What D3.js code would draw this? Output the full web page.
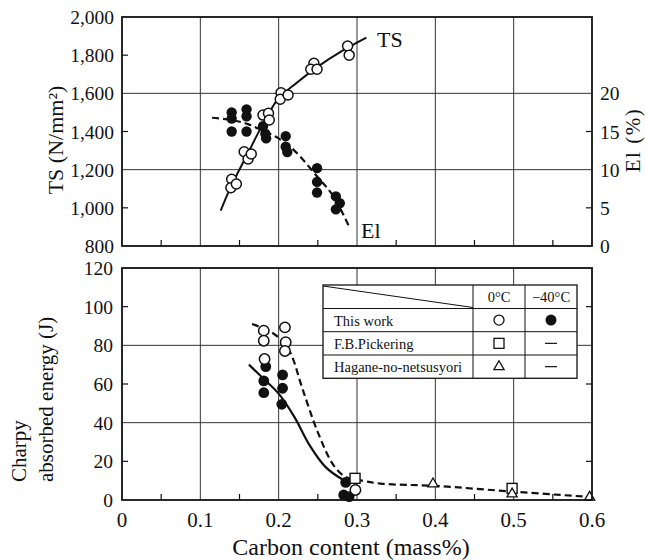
<!DOCTYPE html>
<html>
<head>
<meta charset="utf-8">
<script src="https://cdnjs.cloudflare.com/ajax/libs/d3/7.8.5/d3.min.js"></script>
<style>
  body { margin: 0; background: #fff; }
  svg text { font-family: "Liberation Serif", "DejaVu Serif", serif; fill: #111; }
</style>
</head>
<body>
<svg id="chart" width="646" height="560" font-family="Liberation Serif, serif"></svg>
<script>
// ---- data ----
const xTicks = [0, 0.1, 0.2, 0.3, 0.4, 0.5, 0.6]
const tsTicks = [800, 1000, 1200, 1400, 1600, 1800, 2000]
const elTicks = [0, 5, 10, 15, 20]
const charpyTicks = [0, 20, 40, 60, 80, 100, 120]

// tensile strength, open circles [C mass%, TS]
const tsPoints = [
  [0.140, 1150], [0.139, 1105], [0.146, 1125],
  [0.156, 1294], [0.161, 1256], [0.165, 1282],
  [0.180, 1486], [0.187, 1495], [0.188, 1460],
  [0.203, 1603], [0.202, 1569], [0.212, 1591],
  [0.245, 1757], [0.241, 1726], [0.249, 1726],
  [0.288, 1848], [0.290, 1800]
]
const tsCurve = [[0.126, 985], [0.14, 1120], [0.16, 1280], [0.18, 1440], [0.2, 1575],
  [0.22, 1645], [0.25, 1740], [0.28, 1820], [0.312, 1892]]

// elongation, filled circles [C mass%, El %]
const elPoints = [
  [0.140, 17.5], [0.140, 16.7], [0.140, 15.0],
  [0.159, 17.9], [0.159, 17.0], [0.159, 15.0],
  [0.180, 15.7], [0.183, 14.7], [0.184, 14.1],
  [0.209, 14.4], [0.209, 13.0], [0.211, 12.3],
  [0.249, 10.2], [0.249, 8.4], [0.249, 7.0],
  [0.273, 6.5], [0.278, 5.6], [0.273, 4.8]
]
const elCurve = [[0.115, 16.8], [0.14, 16.5], [0.16, 16.0], [0.18, 15.1], [0.2, 14.1],
  [0.22, 12.5], [0.25, 9.0], [0.27, 6.5], [0.291, 2.3]]

// Charpy absorbed energy
const open0C = [[0.181, 87.6], [0.181, 82.4], [0.182, 72.9],
  [0.208, 89.3], [0.209, 81.6], [0.208, 77.1], [0.298, 5.2]]
const filled40C = [[0.1835, 69], [0.181, 61.6], [0.181, 55.5],
  [0.205, 64.7], [0.205, 57.8], [0.204, 49.5],
  [0.2856, 9.1], [0.283, 2.6], [0.29, 1.7]]
const pickering = [[0.2975, 11.2], [0.498, 6.0]]
const hagane = [[0.397, 7.8], [0.498, 2.6], [0.597, 0.9]]
const curve0C = [[0.166, 91], [0.185, 88], [0.2, 84], [0.215, 76], [0.23, 58], [0.25, 35],
  [0.27, 18], [0.285, 12], [0.3, 10.5], [0.33, 8.5], [0.4, 7.3], [0.5, 4.3], [0.6, 1.5]]
const curve40C = [[0.162, 70], [0.18, 63], [0.2, 55], [0.22, 43], [0.24, 28],
  [0.26, 17], [0.28, 11], [0.29, 9]]

const legendRows = ['This work', 'F.B.Pickering', 'Hagane-no-netsusyori']
const legendCols = ['0°C', '−40°C']

// ---- layout ----
const svg = d3.select('#chart')
const left = 122, right = 592
const x = d3.scaleLinear().domain([0, 0.6]).range([left, right])
const yTS = d3.scaleLinear().domain([800, 2000]).range([246, 17])
const yEl = d3.scaleLinear().domain([0, 20]).range([yTS(800), yTS(1600)])
const yC = d3.scaleLinear().domain([0, 120]).range([500, 268])

const ink = '#111'
const tickFont = 19.5

function panel(y, y0, y1, gridVals) {
  let g = svg.append('g')
  // vertical grid
  g.selectAll('.vg').data([0.1, 0.2, 0.3, 0.4, 0.5]).join('line')
    .attr('x1', d => x(d)).attr('x2', d => x(d))
    .attr('y1', y0).attr('y2', y1)
    .attr('stroke', '#333').attr('stroke-width', 1)
  g.selectAll('.hg').data(gridVals).join('line')
    .attr('x1', left).attr('x2', right)
    .attr('y1', d => y(d)).attr('y2', d => y(d))
    .attr('stroke', '#333').attr('stroke-width', 1)
  // minor x ticks on the bottom edge
  g.selectAll('.mt').data([0.05, 0.15, 0.25, 0.35, 0.45, 0.55]).join('line')
    .attr('x1', d => x(d)).attr('x2', d => x(d))
    .attr('y1', y1).attr('y2', y1 - 6)
    .attr('stroke', ink).attr('stroke-width', 1.2)
  return g
}

function frame(y0, y1) {
  svg.append('rect')
    .attr('x', left).attr('y', y0)
    .attr('width', right - left).attr('height', y1 - y0)
    .attr('fill', 'none').attr('stroke', ink).attr('stroke-width', 1.8)
}

function openCircles(g, data, y, r) {
  g.selectAll(null).data(data).join('circle')
    .attr('cx', d => x(d[0])).attr('cy', d => y(d[1])).attr('r', r)
    .attr('fill', '#fff').attr('stroke', ink).attr('stroke-width', 1.5)
}
function filledCircles(g, data, y, r) {
  g.selectAll(null).data(data).join('circle')
    .attr('cx', d => x(d[0])).attr('cy', d => y(d[1])).attr('r', r)
    .attr('fill', ink)
}

// ---- top panel ----
let topG = panel(yTS, yTS(2000), yTS(800), [1200, 1600])

const lineTS = d3.line().x(d => x(d[0])).y(d => yTS(d[1])).curve(d3.curveCatmullRom)
const lineEl = d3.line().x(d => x(d[0])).y(d => yEl(d[1])).curve(d3.curveCatmullRom)

topG.append('path').attr('d', lineEl(elCurve))
  .attr('fill', 'none').attr('stroke', ink).attr('stroke-width', 2.2)
  .attr('stroke-dasharray', '7,4')
topG.append('path').attr('d', lineTS(tsCurve))
  .attr('fill', 'none').attr('stroke', ink).attr('stroke-width', 2)

filledCircles(topG, elPoints, yEl, 5.2)
openCircles(topG, tsPoints, yTS, 5)

// left ticks
topG.selectAll('.tl').data(tsTicks).join('text')
  .attr('x', 114).attr('y', d => yTS(d) + 7)
  .attr('text-anchor', 'end').attr('font-size', tickFont)
  .text(d => d3.format(',')(d))
topG.selectAll('.tt').data([1000, 1400, 1800]).join('line')
  .attr('x1', left).attr('x2', left + 6)
  .attr('y1', d => yTS(d)).attr('y2', d => yTS(d))
  .attr('stroke', ink).attr('stroke-width', 1.2)
// right ticks
topG.selectAll('.rl').data(elTicks).join('text')
  .attr('x', 600).attr('y', d => yEl(d) + 7)
  .attr('font-size', tickFont)
  .text(d => d)
topG.selectAll('.rt').data([5, 15]).join('line')
  .attr('x1', right - 6).attr('x2', right)
  .attr('y1', d => yEl(d)).attr('y2', d => yEl(d))
  .attr('stroke', ink).attr('stroke-width', 1.2)

topG.append('text').attr('x', 377).attr('y', 47).attr('font-size', 22).text('TS')
topG.append('text').attr('x', 361).attr('y', 238).attr('font-size', 22).text('El')

svg.append('text')
  .attr('transform', `translate(63,140) rotate(-90)`)
  .attr('text-anchor', 'middle').attr('font-size', 22)
  .text('TS (N/mm²)')
svg.append('text')
  .attr('transform', `translate(640,140) rotate(-90)`)
  .attr('text-anchor', 'middle').attr('font-size', 21)
  .attr('letter-spacing', 1.5)
  .text('El (%)')

frame(yTS(2000), yTS(800))

// ---- bottom panel ----
let botG = panel(yC, yC(120), yC(0), [40, 80])

const lineC = d3.line().x(d => x(d[0])).y(d => yC(d[1])).curve(d3.curveCatmullRom)
botG.append('path').attr('d', lineC(curve0C))
  .attr('fill', 'none').attr('stroke', ink).attr('stroke-width', 2.2)
  .attr('stroke-dasharray', '7,4')
botG.append('path').attr('d', lineC(curve40C))
  .attr('fill', 'none').attr('stroke', ink).attr('stroke-width', 2.2)

filledCircles(botG, filled40C, yC, 5.4)
openCircles(botG, open0C, yC, 5.2)

botG.selectAll('.sq').data(pickering).join('rect')
  .attr('x', d => x(d[0]) - 5).attr('y', d => yC(d[1]) - 5)
  .attr('width', 10).attr('height', 10)
  .attr('fill', '#fff').attr('stroke', ink).attr('stroke-width', 1.4)
const tri = d3.symbol().type(d3.symbolTriangle).size(45)
botG.selectAll('.tr').data(hagane).join('path')
  .attr('d', tri)
  .attr('transform', d => `translate(${x(d[0])},${yC(d[1]) - 1})`)
  .attr('fill', '#fff').attr('stroke', ink).attr('stroke-width', 1.3)

botG.selectAll('.cl').data(charpyTicks).join('text')
  .attr('x', 113).attr('y', d => yC(d) + 7)
  .attr('text-anchor', 'end').attr('font-size', tickFont)
  .text(d => d)
botG.selectAll('.ct').data([20, 60, 100]).join('line')
  .attr('x1', left).attr('x2', left + 6)
  .attr('y1', d => yC(d)).attr('y2', d => yC(d))
  .attr('stroke', ink).attr('stroke-width', 1.2)
botG.selectAll('.ctr').data([20, 60, 100]).join('line')
  .attr('x1', right - 6).attr('x2', right)
  .attr('y1', d => yC(d)).attr('y2', d => yC(d))
  .attr('stroke', ink).attr('stroke-width', 1.2)

botG.selectAll('.xl').data(xTicks).join('text')
  .attr('x', d => x(d)).attr('y', 527)
  .attr('text-anchor', 'middle').attr('font-size', 21)
  .text(d => d)

svg.append('text').attr('x', 351).attr('y', 555)
  .attr('text-anchor', 'middle').attr('font-size', 24)
  .text('Carbon content (mass%)')

let yl = svg.append('text')
  .attr('transform', 'rotate(-90)')
  .attr('font-size', 21)
yl.append('tspan').attr('x', -482).attr('y', 26).text('Charpy')
yl.append('tspan').attr('x', -482).attr('y', 53).text('absorbed energy (J)')

// ---- legend table ----
const lg = svg.append('g')
const lx0 = 323, lx1 = 473, lx2 = 525, lx3 = 577
const rowY = [285, 308.5, 331.7, 355, 378.3]
lg.append('rect').attr('x', lx0).attr('y', rowY[0])
  .attr('width', lx3 - lx0).attr('height', rowY[4] - rowY[0])
  .attr('fill', '#fff').attr('stroke', ink).attr('stroke-width', 1.3)
lg.selectAll('.hr').data(rowY.slice(1, 4)).join('line')
  .attr('x1', lx0).attr('x2', lx3).attr('y1', d => d).attr('y2', d => d)
  .attr('stroke', ink).attr('stroke-width', 1)
lg.selectAll('.vr').data([lx1, lx2]).join('line')
  .attr('x1', d => d).attr('x2', d => d).attr('y1', rowY[0]).attr('y2', rowY[4])
  .attr('stroke', ink).attr('stroke-width', 1)
lg.append('line').attr('x1', lx0).attr('y1', rowY[0] + 1).attr('x2', lx1).attr('y2', rowY[1] - 1)
  .attr('stroke', ink).attr('stroke-width', 1)

lg.selectAll('.ch').data(legendCols).join('text')
  .attr('x', (d, i) => i ? (lx2 + lx3) / 2 : (lx1 + lx2) / 2)
  .attr('y', rowY[0] + 17).attr('text-anchor', 'middle').attr('font-size', 14.5)
  .text(d => d)
lg.selectAll('.rn').data(legendRows).join('text')
  .attr('x', lx0 + 11).attr('y', (d, i) => rowY[i + 1] + 17)
  .attr('font-size', 14.5)
  .text(d => d)

const c1 = (lx1 + lx2) / 2, c2 = (lx2 + lx3) / 2
const midY = i => (rowY[i + 1] + rowY[i + 2]) / 2
lg.append('circle').attr('cx', c1).attr('cy', midY(0)).attr('r', 5)
  .attr('fill', '#fff').attr('stroke', ink).attr('stroke-width', 1.3)
lg.append('circle').attr('cx', c2).attr('cy', midY(0)).attr('r', 5.5).attr('fill', ink)
lg.append('rect').attr('x', c1 - 5).attr('y', midY(1) - 5).attr('width', 10).attr('height', 10)
  .attr('fill', '#fff').attr('stroke', ink).attr('stroke-width', 1.3)
lg.append('path').attr('d', tri).attr('transform', `translate(${c1},${midY(2)})`)
  .attr('fill', '#fff').attr('stroke', ink).attr('stroke-width', 1.3)
lg.selectAll('.dash').data([1, 2]).join('line')
  .attr('x1', c2 - 6).attr('x2', c2 + 6)
  .attr('y1', d => midY(d)).attr('y2', d => midY(d))
  .attr('stroke', ink).attr('stroke-width', 1.2)

frame(yC(120), yC(0))
</script>
</body>
</html>
